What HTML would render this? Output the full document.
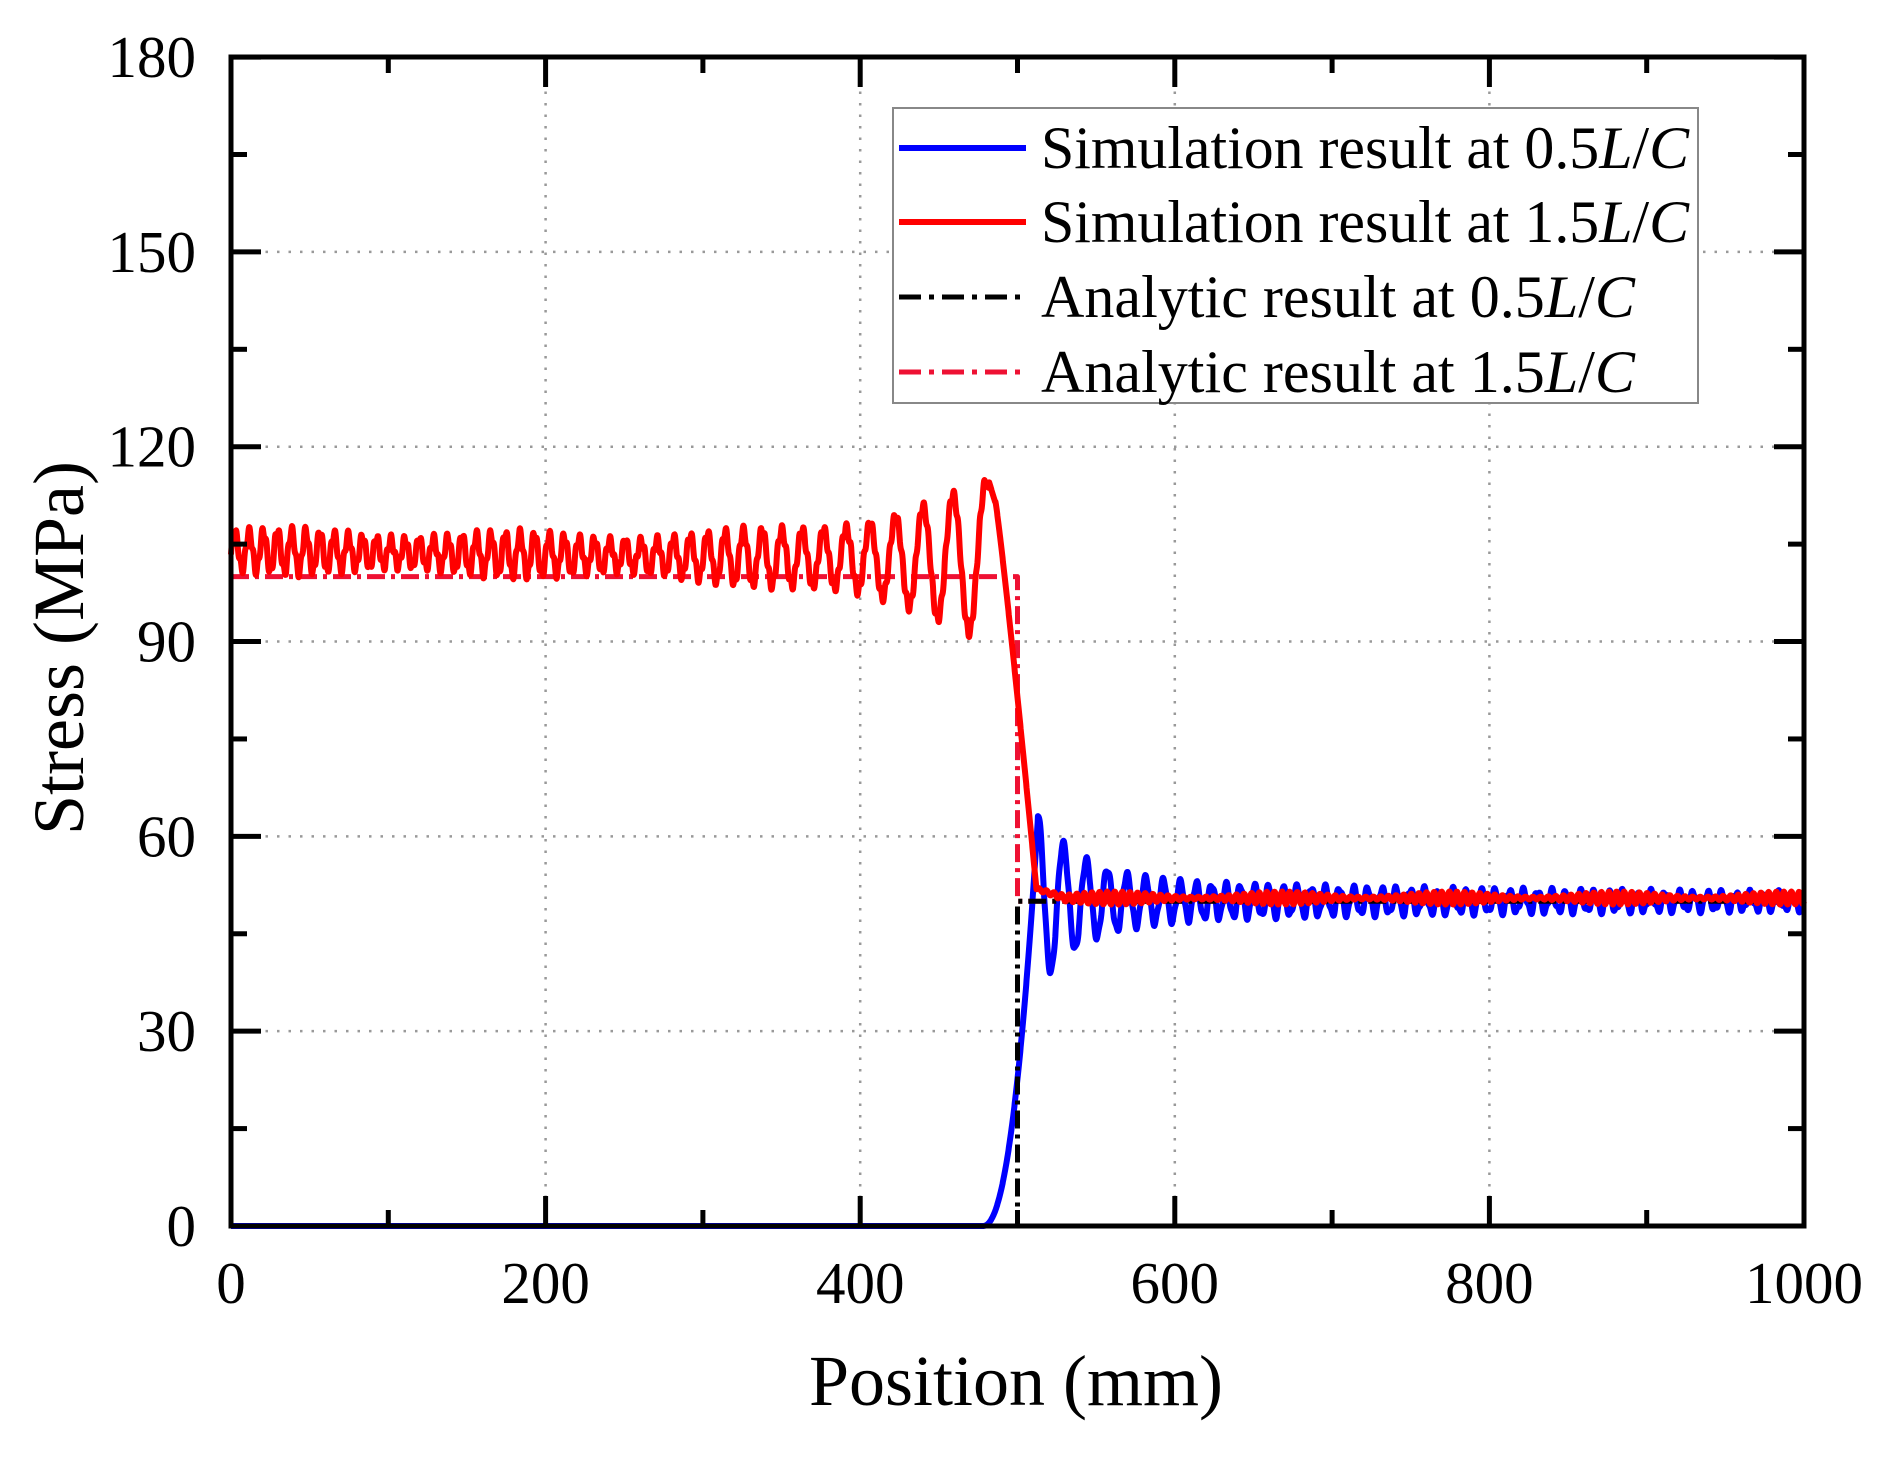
<!DOCTYPE html>
<html><head><meta charset="utf-8"><style>
html,body{margin:0;padding:0;background:#fff;}
svg{display:block;}
text{font-family:"Liberation Serif",serif;fill:#000;}
</style></head><body>
<svg id="s" width="1898" height="1458" viewBox="0 0 1898 1458" xmlns="http://www.w3.org/2000/svg">
<rect width="1898" height="1458" fill="#fff"/>
<g id="grid" stroke="#999" stroke-width="2.5" stroke-dasharray="2.5,9" fill="none"></g>
<g id="data" fill="none" stroke-linejoin="round"></g>
<g id="axes" stroke="#000" fill="none"></g>
<g id="labels" font-size="59"></g>
<text x="0" y="0" font-size="72" text-anchor="middle" transform="translate(83,648) rotate(-90)">Stress (MPa)</text>
<text x="1016" y="1405" font-size="72" text-anchor="middle">Position (mm)</text>
<g id="legend">
<rect x="893" y="108" width="805" height="295" fill="#fff" stroke="#888" stroke-width="2"/>
<line x1="899" y1="148" x2="1026" y2="148" stroke="#0000ff" stroke-width="6"/>
<line x1="899" y1="222" x2="1026" y2="222" stroke="#ff0000" stroke-width="6"/>
<line x1="899" y1="297" x2="1026" y2="297" stroke="#000" stroke-width="5" stroke-dasharray="22,8,5,8"/>
<line x1="899" y1="372" x2="1026" y2="372" stroke="#ee1133" stroke-width="5" stroke-dasharray="22,8,5,8"/>
<text x="1041" y="168" font-size="60" textLength="648" lengthAdjust="spacingAndGlyphs">Simulation result at 0.5<tspan font-style="italic">L</tspan>/<tspan font-style="italic">C</tspan></text>
<text x="1041" y="242" font-size="60" textLength="648" lengthAdjust="spacingAndGlyphs">Simulation result at 1.5<tspan font-style="italic">L</tspan>/<tspan font-style="italic">C</tspan></text>
<text x="1041" y="317" font-size="60" textLength="594" lengthAdjust="spacingAndGlyphs">Analytic result at 0.5<tspan font-style="italic">L</tspan>/<tspan font-style="italic">C</tspan></text>
<text x="1041" y="392" font-size="60" textLength="594" lengthAdjust="spacingAndGlyphs">Analytic result at 1.5<tspan font-style="italic">L</tspan>/<tspan font-style="italic">C</tspan></text>
</g>
</svg>
<script>
(function(){
var NS="http://www.w3.org/2000/svg";
function X(p){return 231+p*1.573;}
function Y(v){return 1226-v*6.494;}
function el(parent,tag,attrs,txt){var e=document.createElementNS(NS,tag);for(var k in attrs)e.setAttribute(k,attrs[k]);if(txt!=null)e.textContent=txt;document.getElementById(parent).appendChild(e);return e;}
for(var p=200;p<1000;p+=200){el("grid","line",{x1:X(p),y1:57,x2:X(p),y2:1226});}
for(var v=30;v<180;v+=30){el("grid","line",{x1:231,y1:Y(v),x2:1804,y2:Y(v)});}
function path(pts){var d="";for(var i=0;i<pts.length;i++){d+=(i?"L":"M")+X(pts[i][0]).toFixed(1)+","+Y(pts[i][1]).toFixed(1);}return d;}
el("data","path",{d:path([[0,100],[500,100],[500,50],[1000,50]]),stroke:"#ee1133","stroke-width":5,"stroke-dasharray":"18,6,4,6"});
var b=[];var ph=0;
for(var x=0;x<=1000;x+=0.25){
 var v;
 if(x<478) v=0;
 else if(x<513){var t=(x-478)/35; v=63*Math.pow(t,2.2);}
 else{
  var s=x-513;
  var A=10.5*Math.exp(-s/28)+2.5*Math.exp(-s/350)+0.6;
  var per=s<40?17-s*0.1:(s<120?13-(s-40)*0.05:9);
  v=50+A*Math.cos(ph)+0.5*Math.sin(x*1.7);
  ph+=2*Math.PI*0.25/per;
 }
 b.push([x,v]);
}
el("data","path",{d:path(b),stroke:"#0000ff","stroke-width":6});
el("data","path",{d:path([[0,0],[500,0],[500,50],[1000,50]]),stroke:"#000","stroke-width":5,"stroke-dasharray":"18,6,4,6"});
var r=[];var phr=0;
for(var x=0;x<=1000;x+=0.25){
 var v;
 if(x<482){
  var per=9+13*Math.pow(x/480,4);
  phr+=2*Math.PI*0.25/per;
  var amp=2.6+9*Math.pow(x/480,6)+0.6*Math.sin(x/23);
  var mean=104-1.5*(x/480);
  v=mean+amp*Math.sin(phr-0.4)+0.8*Math.sin(x*2.3);
 } else if(x<512){
  v= x<486 ? 114.5-(x-482)*0.8 : 111.5-(111.5-52)*Math.pow((x-486)/26,1.1);
 } else {
  v=50.5+(x<530?(530-x)*0.08:0)+1.0*Math.sin(x*1.3)*(0.6+0.4*Math.sin(x/17));
 }
 r.push([x,v]);
}
el("data","path",{d:path(r),stroke:"#ff0000","stroke-width":6});
el("axes","rect",{x:231,y:57,width:1573,height:1169,"stroke-width":5});
for(var p=0;p<=1000;p+=100){var L=(p%200==0)?30:16;
 el("axes","line",{x1:X(p),y1:1226,x2:X(p),y2:1226-L,"stroke-width":5});
 el("axes","line",{x1:X(p),y1:57,x2:X(p),y2:57+L,"stroke-width":5});}
for(var v=0;v<=180;v+=15){var L=(v%30==0)?30:16;
 el("axes","line",{x1:231,y1:Y(v),x2:231+L,y2:Y(v),"stroke-width":5});
 el("axes","line",{x1:1804,y1:Y(v),x2:1804-L,y2:Y(v),"stroke-width":5});}
for(var p=0;p<=1000;p+=200){el("labels","text",{x:X(p),y:1303,"text-anchor":"middle"},String(p));}
for(var v=0;v<=180;v+=30){el("labels","text",{x:196,y:Y(v)+20,"text-anchor":"end"},String(v));}
})();
</script>
</body></html>
